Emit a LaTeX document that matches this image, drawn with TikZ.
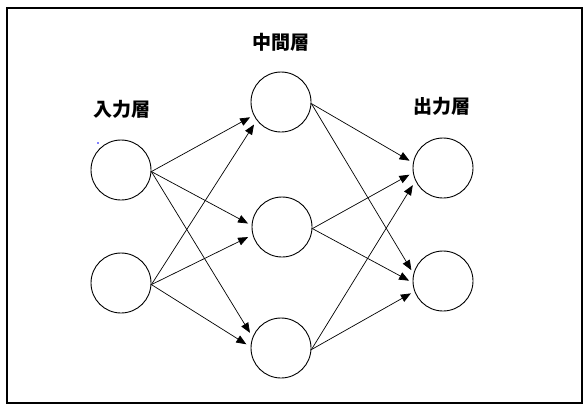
\documentclass[tikz,border=0pt]{standalone}
\usepackage{fontspec}
\newfontfamily\cjk{Noto Sans CJK JP}
\usetikzlibrary{arrows.meta}
\begin{document}
\begin{tikzpicture}[x=1pt,y=-1pt,
  neuron/.style={circle,draw,line width=0.9pt,minimum size=60pt,inner sep=0pt},
  conn/.style={-{Triangle[length=10pt,width=8pt]},line width=0.7pt},
  lbl/.style={font=\cjk\bfseries\fontsize{19}{19}\selectfont,inner sep=0pt}]
\useasboundingbox (0,0) rectangle (587,416);
\draw[line width=2pt] (7,8) rectangle (582,403);
% nodes
\node[neuron] (i1) at (121,170) {};
\node[neuron] (i2) at (121,283) {};
\node[neuron] (m1) at (281,102) {};
\node[neuron] (m2) at (282,227) {};
\node[neuron] (m3) at (281,348) {};
\node[neuron] (o1) at (443,168) {};
\node[neuron] (o2) at (443,281) {};
% labels
\node[lbl] (li) at (122,109) {入力層};
\node[lbl] (lm) at (281,42) {中間層};
\node[lbl] (lo) at (442,106) {出力層};
\fill[blue] (98,143) circle (0.8);
% connections input -> middle
\draw[conn,shorten >=4pt] (i1.-3) -- (m1.206);
\draw[conn,shorten >=5pt] (i2.-3) -- (m1.217);
\draw[conn,shorten >=4pt] (i1.-3) -- (m2.177);
\draw[conn,shorten >=5pt] (i2.-3) -- (m2.195);
\draw[conn,shorten >=5pt] (i1.-3) -- (m3.159);
\draw[conn,shorten >=5pt] (i2.-3) -- (m3.178);
% middle -> output
\draw[conn,shorten >=4pt] (m1.-3) -- (o1.170);
\draw[conn,shorten >=4pt] (m2.-3) -- (o1.189);
\draw[conn,shorten >=5pt] (m3.-3) -- (o1.205);
\draw[conn,shorten >=4pt] (m1.-3) -- (o2.166);
\draw[conn,shorten >=4pt] (m2.-3) -- (o2.183);
\draw[conn,shorten >=4pt] (m3.-3) -- (o2.200);
\end{tikzpicture}
\end{document}
